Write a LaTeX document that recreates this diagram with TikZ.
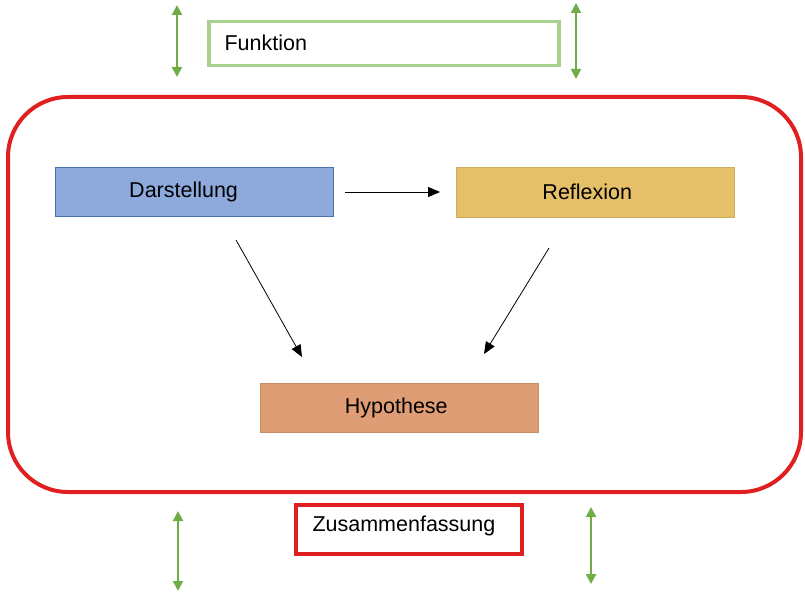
\documentclass[tikz,border=0pt]{standalone}
\usepackage{fontspec}
\setmainfont{Liberation Sans}
\usetikzlibrary{arrows.meta}
\definecolor{grn}{HTML}{70AD47}
\definecolor{lgrn}{HTML}{A9D18E}
\definecolor{redc}{HTML}{E02020}
\definecolor{bluefill}{HTML}{8EA9DB}
\definecolor{blueline}{HTML}{4A6FB5}
\definecolor{goldfill}{HTML}{E6C068}
\definecolor{salmon}{HTML}{DE9D74}
\tikzset{
  txt/.style={font=\fontsize{21.5}{25}\selectfont},
  colbox/.style={minimum width=278pt, minimum height=49pt, inner sep=0pt, anchor=north west},
  greenarrow/.style={draw=grn, line width=2pt, {Triangle[length=10pt,width=10pt]}-{Triangle[length=10pt,width=10pt]}},
  blackarrow/.style={draw=black, line width=0.8pt, -{Triangle[length=12pt,width=10pt]}}
}
\begin{document}
\begin{tikzpicture}[x=1pt,y=-1pt]
\useasboundingbox (0,0) rectangle (805,593);
% big frame
\draw[redc, line width=4pt, rounded corners=60pt] (8,97) rectangle (801,492);
% Funktion
\node[draw=lgrn, line width=3.5pt, anchor=north west, minimum width=350pt, minimum height=44pt, inner sep=0pt] (funk) at (207,20) {};
\node[txt, anchor=west] (funktxt) at (221,43) {Funktion};
\coordinate (gl1a) at (177,5); \coordinate (gl1b) at (177,77);
\coordinate (gr1a) at (576,3); \coordinate (gr1b) at (576,79);
\draw[greenarrow] (gl1a) -- (gl1b);
\draw[greenarrow] (gr1a) -- (gr1b);
% boxes
\node[colbox, fill=bluefill, draw=blueline, line width=1.2pt] (dar) at (55,167) {};
\node[txt] (dartxt) at ([xshift=-11pt]dar.center) {Darstellung};
\node[colbox, fill=goldfill, draw=goldfill!90!black, line width=0.6pt, minimum height=50pt] (ref) at (456,167) {};
\node[txt] (reftxt) at ([xshift=-8pt]ref.center) {Reflexion};
\node[colbox, fill=salmon, draw=salmon!90!black, line width=0.6pt] (hyp) at (260,383) {};
\node[txt] (hyptxt) at ([xshift=-3pt]hyp.center) {Hypothese};
% arrows
\coordinate (a1s) at (345,192); \coordinate (a1e) at (440,192);
\draw[blackarrow] (a1s) -- (a1e);
\coordinate (a2s) at (236,240); \coordinate (a2e) at (302,357);
\draw[blackarrow] (a2s) -- (a2e);
\coordinate (a3s) at (549,248); \coordinate (a3e) at (484,354);
\draw[blackarrow] (a3s) -- (a3e);
% Zusammenfassung
\node[draw=redc, line width=3.5pt, anchor=north west, minimum width=226pt, minimum height=49pt, inner sep=0pt] (zus) at (294,503) {};
\node[txt, anchor=west] (zustxt) at (309,526) {Zusammenfassung};
\coordinate (gl2a) at (178,511); \coordinate (gl2b) at (178,591);
\coordinate (gr2a) at (591,507); \coordinate (gr2b) at (591,584);
\draw[greenarrow] (gl2a) -- (gl2b);
\draw[greenarrow] (gr2a) -- (gr2b);
\end{tikzpicture}
\end{document}
